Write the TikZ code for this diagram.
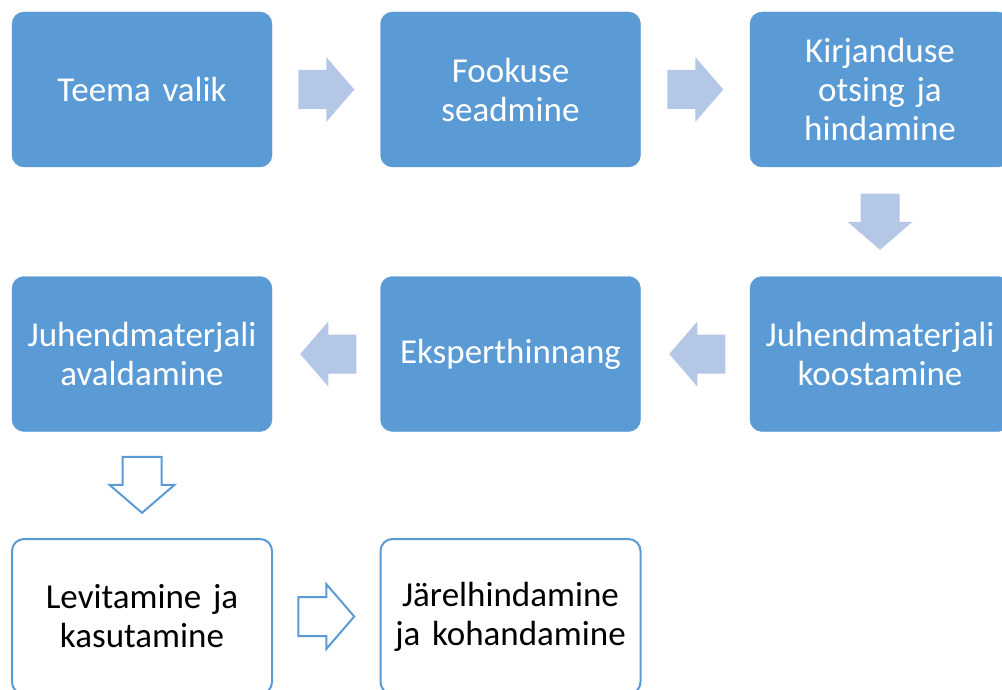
\documentclass[tikz,border=0pt]{standalone}
\usepackage{fontspec}
\setmainfont{Carlito}[WordSpace=0.75]
\usetikzlibrary{calc}
\definecolor{boxblue}{HTML}{5B9BD5}
\definecolor{arrowblue}{HTML}{B4C7E7}
\begin{document}
\begin{tikzpicture}[x=1pt,y=-1pt,
  bluebox/.style={rectangle, rounded corners=12pt, fill=boxblue, draw=boxblue,
    minimum width=260pt, minimum height=155pt, text width=250pt, align=center,
    text=white, font=\fontsize{35}{39}\selectfont, inner sep=0pt},
  whitebox/.style={bluebox, fill=white, draw=boxblue, line width=2pt, text=black},
  harrow/.pic={\path[pic actions] (-28,-19.5) -- (0,-19.5) -- (0,-32.5) -- (28,0)
    -- (0,32.5) -- (0,19.5) -- (-28,19.5) -- cycle;},
  solidarrow/.style={fill=arrowblue},
  outlinearrow/.style={draw=boxblue, line width=2pt, fill=white, line join=miter}
]
\useasboundingbox (0,0) rectangle (1002,690);
\clip (0,0) rectangle (1002,690);

\node[bluebox] (a) at (142,89.5) {Teema valik};
\node[bluebox] (b) at (510.5,89.5) {Fookuse\\seadmine};
\node[bluebox] (c) at (880,89.5) {Kirjanduse\\otsing ja\\hindamine};
\node[bluebox] (d) at (880,354) {Juhendmaterjali\\koostamine};
\node[bluebox] (e) at (510.5,354) {Eksperthinnang};
\node[bluebox] (f) at (142,354) {Juhendmaterjali\\avaldamine};
\node[whitebox] (g) at (142,616.5) {Levitamine ja\\kasutamine};
\node[whitebox] (h) at (510.5,616.5) {Järelhindamine\\ja kohandamine};

\pic[solidarrow] at ($(a.east)!0.5!(b.west)$) {harrow};
\pic[solidarrow] at ($(b.east)!0.5!(c.west)$) {harrow};
\pic[solidarrow, rotate=-90] at ($(c.south)!0.5!(d.north)$) {harrow};
\pic[solidarrow, rotate=180] at ($(d.west)!0.5!(e.east)+(2,0)$) {harrow};
\pic[solidarrow, rotate=180] at ($(e.west)!0.5!(f.east)+(2,0)$) {harrow};
\pic[outlinearrow, rotate=-90] at ($(f.south)!0.5!(g.north)$) {harrow};
\pic[outlinearrow] at ($(g.east)!0.5!(h.west)$) {harrow};
\end{tikzpicture}
\end{document}
